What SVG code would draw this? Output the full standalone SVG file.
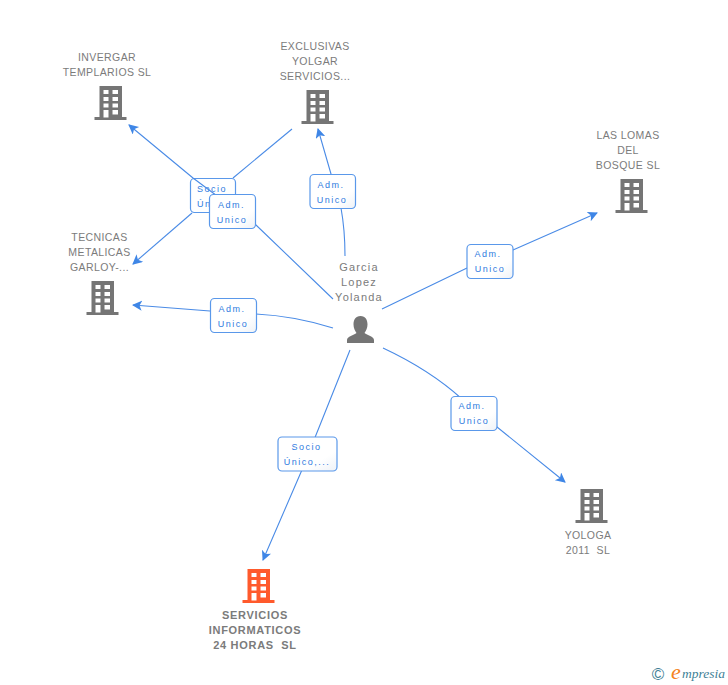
<svg xmlns="http://www.w3.org/2000/svg" width="728" height="685" viewBox="0 0 728 685">
<style>
text{font-family:"Liberation Sans",Arial,sans-serif}
.n{font-size:10.500px;fill:#7b7b7b;text-anchor:middle;letter-spacing:.4px}
.b{font-size:11px;font-weight:bold;letter-spacing:.7px}
.p{font-size:11px;letter-spacing:1.2px}
.l{font-size:9px;fill:#2f7be0;text-anchor:middle;letter-spacing:1.5px}
.box{fill:url(#g);stroke:#5a98ea;stroke-width:1.2}
.c{fill:none;stroke:#4a8be6;stroke-width:1.1}
</style>
<defs>
<linearGradient id="g" x1="0" y1="0" x2="1" y2="1"><stop offset="0" stop-color="#fff"/><stop offset=".7" stop-color="#fff"/><stop offset="1" stop-color="#eef2f7"/></linearGradient>
<path id="bld" fill-rule="evenodd" d="M5,0H27.5V31H32V34H0V31H5ZM9,4V8H14V4ZM18,4V8H23.500V4ZM9,11V15H14V11ZM18,11V15H23.500V11ZM9,17.500V21.500H14V17.500ZM18,17.500V21.500H23.500V17.500ZM9,24V31.500H14V24ZM18,24V28.500H23.500V24Z"/>
<marker id="a" markerWidth="12" markerHeight="12" refX="9" refY="5" orient="auto" markerUnits="userSpaceOnUse"><path d="M0,0L10,5L0,10L2.500,5Z" fill="#3f86e6"/></marker>
</defs>
<g id="label-socio-1"><rect class="box" x="190.500" y="178.500" width="45" height="34" rx="4"/><text class="l" x="212" y="191.500">Socio</text><text class="l" x="197" y="206.500" style="text-anchor:start">Ún</text></g>
<g id="connectors">
<path class="c" marker-end="url(#a)" d="M333,299L256,225L193,178L129,125"/>
<path class="c" d="M292,129L233,178"/>
<path class="c" marker-end="url(#a)" d="M192,213L133,264"/>
<path class="c" marker-end="url(#a)" d="M345,256Q345,230 341,208L331,174L318,129"/>
<path class="c" marker-end="url(#a)" d="M333,328Q295,316 256,314L210,311L133,305"/>
<path class="c" marker-end="url(#a)" d="M382,309L467,268L513,250L597,213"/>
<path class="c" marker-end="url(#a)" d="M383,348Q430,370 462,399L497,427L565,482"/>
<path class="c" marker-end="url(#a)" d="M350,350L318,430L301.500,471L263,560"/>
</g>
<g id="label-adm-1"><rect class="box" x="209.500" y="194.500" width="46" height="34" rx="4"/><text class="l" x="231.500" y="208">Adm.</text><text class="l" x="232" y="223">Unico</text></g>
<g id="label-adm-2"><rect class="box" x="310" y="174.500" width="45.500" height="34" rx="4"/><text class="l" x="331" y="188">Adm.</text><text class="l" x="332" y="203">Unico</text></g>
<g id="label-adm-3"><rect class="box" x="210.500" y="298.500" width="46" height="34" rx="4"/><text class="l" x="232" y="312">Adm.</text><text class="l" x="233" y="327">Unico</text></g>
<g id="label-adm-4"><rect class="box" x="467" y="244.500" width="46" height="34" rx="4"/><text class="l" x="488" y="257">Adm.</text><text class="l" x="490" y="272">Unico</text></g>
<g id="label-adm-5"><rect class="box" x="451" y="396.500" width="46" height="34" rx="4"/><text class="l" x="472" y="409">Adm.</text><text class="l" x="474" y="424">Unico</text></g>
<g id="label-socio-2"><rect class="box" x="278" y="437" width="59" height="34" rx="4"/><text class="l" x="306.500" y="450">Socio</text><text class="l" x="307" y="465">Único,...</text></g>
<g id="node-invergar"><use href="#bld" x="94.500" y="86" fill="#757575"/><text class="n" x="107" y="61">INVERGAR</text><text class="n" x="107" y="76">TEMPLARIOS SL</text></g>
<g id="node-exclusivas"><use href="#bld" x="301.500" y="90" fill="#757575"/><text class="n" x="315" y="50">EXCLUSIVAS</text><text class="n" x="315" y="65">YOLGAR</text><text class="n" x="315" y="80">SERVICIOS...</text></g>
<g id="node-tecnicas"><use href="#bld" x="86.500" y="281" fill="#757575"/><text class="n" x="99.500" y="241">TECNICAS</text><text class="n" x="99.500" y="256">METALICAS</text><text class="n" x="99.500" y="271">GARLOY-...</text></g>
<g id="node-laslomas"><use href="#bld" x="615.500" y="179" fill="#757575"/><text class="n" x="628" y="139">LAS LOMAS</text><text class="n" x="628" y="154">DEL</text><text class="n" x="628" y="169">BOSQUE SL</text></g>
<g id="node-yologa"><use href="#bld" x="575.500" y="489" fill="#757575"/><text class="n" x="588" y="539">YOLOGA</text><text class="n" x="588" y="554" xml:space="preserve">2011  SL</text></g>
<g id="node-servicios"><use href="#bld" x="242.500" y="569" fill="#ff5a2c"/><text class="n b" x="255" y="619">SERVICIOS</text><text class="n b" x="255" y="634">INFORMATICOS</text><text class="n b" x="255" y="649" xml:space="preserve">24 HORAS  SL</text></g>
<g id="node-person"><path fill="#757575" d="M360.500,316C365.500,316 367.500,320 367.500,324.500C367.500,328 366,331 364.500,333C367,335 374,336.500 374,340V343H347V340C347,336.500 354,335 356.500,333C355,331 353.500,328 353.500,324.500C353.500,320 355.500,316 360.500,316Z"/><text class="n p" x="359" y="271">Garcia</text><text class="n p" x="359" y="286">Lopez</text><text class="n p" x="359" y="301">Yolanda</text></g>
<g id="logo"><text x="658" y="680" font-size="17" fill="#3f7f96" text-anchor="middle">©</text><text x="671" y="679" font-size="22" font-style="italic" fill="#f58220" style="font-family:'Liberation Serif',serif">e</text><text x="682" y="678" font-size="13.500" font-style="italic" fill="#3f7f96" style="font-family:'Liberation Serif',serif">mpresia</text></g>
</svg>
